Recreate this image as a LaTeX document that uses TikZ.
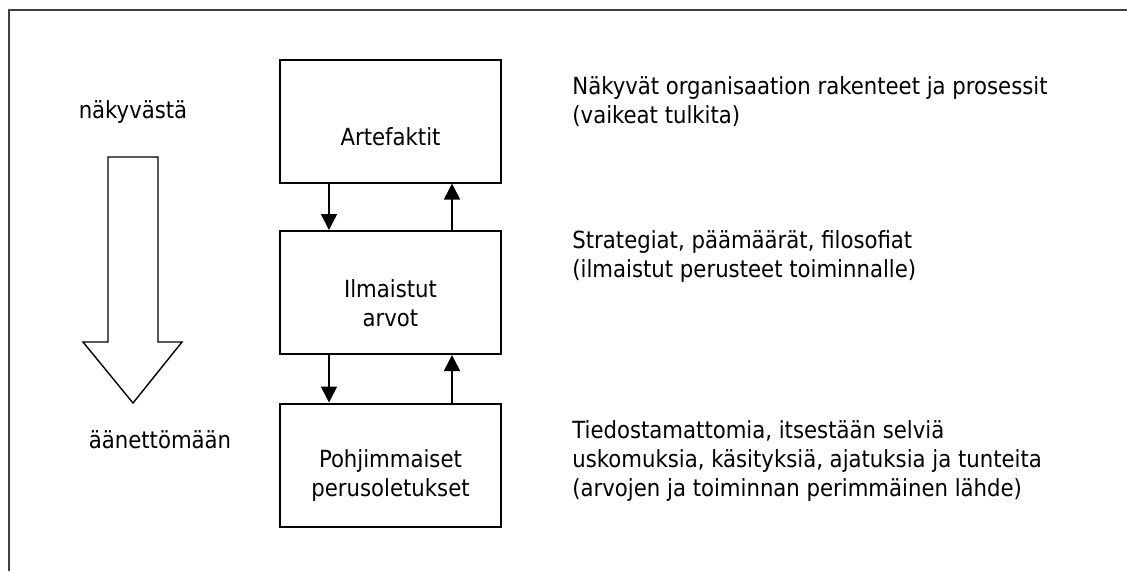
\documentclass[tikz,border=0pt]{standalone}
\usepackage{fontspec}
\setmainfont{DejaVu Sans Condensed}
\usetikzlibrary{arrows.meta}

\tikzset{
  taso/.style={draw, line width=1pt, minimum width=110.5pt, minimum height=61.5pt,
    inner sep=0pt},
  tasoteksti/.style={align=center, inner sep=0pt},
  nuoli/.style={line width=0.8pt, -{Triangle[length=8pt,width=8pt]}},
  selite/.style={anchor=west, align=left, inner sep=0pt},
}

\begin{document}
\begin{tikzpicture}[x=0.5pt, y=-0.5pt, font=\fontsize{11.8}{14.5}\selectfont]
  \useasboundingbox (0,0) rectangle (1127,570);
  % kehys
  \draw[line width=1pt, black!75] (9,580) -- (9,10) -- (1140,10);
  % iso nuoli
  \draw[line width=0.7pt] (108,157) -- (158,157) -- (158,342) -- (182,342)
    -- (133,403) -- (83,342) -- (108,342) -- cycle;
  \node (ylin) at (133,112) {näkyvästä};
  \node (alin) at (160,440) {äänettömään};
  % tasot
  \node[taso] (art)   at (390.5,121)   {};
  \node[taso] (arvot) at (390.5,292.5) {};
  \node[taso] (perus) at (390.5,465)   {};
  \node[tasoteksti] (artt)   at (390.5,137) {Artefaktit};
  \node[tasoteksti] (arvott) at (390.5,303) {Ilmaistut\\arvot};
  \node[tasoteksti] (perust) at (390.5,475) {Pohjimmaiset\\perusoletukset};
  \coordinate (vx) at (329,0);   % alas
  \coordinate (ox) at (452,0);   % ylös
  \draw[nuoli] (art.south -| vx)   -- (arvot.north -| vx);
  \draw[nuoli] (arvot.north -| ox) -- (art.south -| ox);
  \draw[nuoli] (arvot.south -| vx) -- (perus.north -| vx);
  \draw[nuoli] (perus.north -| ox) -- (arvot.south -| ox);
  % selitteet
  \node[selite] (s1) at (572,102) {Näkyvät organisaation rakenteet ja prosessit\\(vaikeat tulkita)};
  \node[selite] (s2) at (572,256) {Strategiat, päämäärät, filosofiat\\(ilmaistut perusteet toiminnalle)};
  \node[selite] (s3) at (572,461) {Tiedostamattomia, itsestään selviä\\uskomuksia, käsityksiä, ajatuksia ja tunteita\\(arvojen ja toiminnan perimmäinen lähde)};
\end{tikzpicture}
\end{document}
